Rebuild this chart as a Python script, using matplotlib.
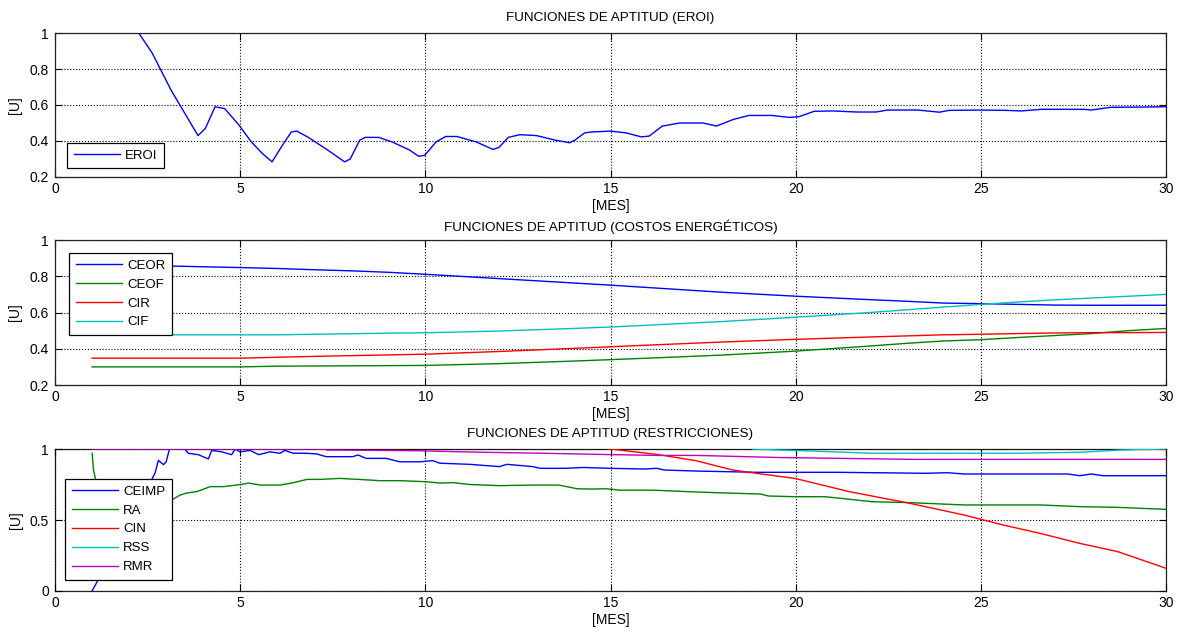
"""
Funciones de aptitud (EROI, costos energeticos, restricciones) por mes.
"""

import matplotlib.pyplot as plt

plt.rcParams['font.family'] = ['Liberation Sans', 'DejaVu Sans']
plt.rcParams['font.size'] = 10

# --- Panel 1: EROI ---
mes_eroi = [2.0, 2.26, 2.62, 3.14, 3.86, 4.06, 4.32, 4.58, 4.96, 5.3, 5.6, 5.86,
            6.12, 6.38, 6.53, 6.84, 7.36, 7.82, 7.97, 8.23, 8.38, 8.74, 9.1,
            9.57, 9.82, 9.98, 10.29, 10.55, 10.85, 11.37, 11.83, 11.99, 12.24,
            12.55, 13.0, 13.5, 13.9, 14.04, 14.3, 14.48, 15.0, 15.42, 15.83,
            16.04, 16.4, 16.87, 17.5, 17.86, 18.32, 18.74, 19.36, 19.83, 20.09,
            20.5, 21.02, 21.65, 22.17, 22.48, 23.3, 23.88, 24.14, 24.97, 25.7,
            26.1, 26.63, 27.77, 27.98, 28.5, 30.0]
eroi = [1.06, 1.0, 0.89, 0.68, 0.43, 0.47, 0.59, 0.58, 0.49, 0.395, 0.33, 0.284,
        0.37, 0.45, 0.455, 0.42, 0.35, 0.284, 0.30, 0.405, 0.42, 0.42, 0.395,
        0.35, 0.315, 0.32, 0.395, 0.425, 0.425, 0.395, 0.353, 0.365, 0.42,
        0.435, 0.43, 0.405, 0.39, 0.405, 0.445, 0.45, 0.455, 0.445, 0.423,
        0.427, 0.483, 0.50, 0.50, 0.483, 0.52, 0.542, 0.542, 0.531, 0.535,
        0.565, 0.567, 0.561, 0.561, 0.572, 0.572, 0.56, 0.57, 0.572, 0.57,
        0.567, 0.576, 0.576, 0.572, 0.587, 0.59]

# --- Panel 2: costos energeticos ---
mes_costos = [1, 3, 5, 6, 7, 8, 9, 10, 12, 14, 15, 16, 18, 20, 22, 23, 24, 25,
              26, 27, 28, 29, 30]
ceor = [0.858, 0.857, 0.848, 0.843, 0.836, 0.83, 0.822, 0.811, 0.787, 0.763,
        0.751, 0.738, 0.712, 0.69, 0.671, 0.662, 0.652, 0.649, 0.645, 0.641,
        0.64, 0.64, 0.64]
ceof = [0.30, 0.30, 0.30, 0.304, 0.305, 0.306, 0.307, 0.308, 0.318, 0.332,
        0.34, 0.348, 0.365, 0.387, 0.415, 0.43, 0.443, 0.45, 0.462, 0.473,
        0.484, 0.50, 0.512]
cir = [0.348, 0.348, 0.348, 0.353, 0.358, 0.362, 0.366, 0.37, 0.385, 0.402,
       0.411, 0.42, 0.437, 0.452, 0.465, 0.471, 0.477, 0.48, 0.484, 0.487,
       0.489, 0.489, 0.49]
cif = [0.477, 0.477, 0.477, 0.477, 0.48, 0.483, 0.486, 0.488, 0.498, 0.512,
       0.52, 0.53, 0.55, 0.574, 0.60, 0.615, 0.63, 0.645, 0.658, 0.67, 0.68,
       0.69, 0.70]

# --- Panel 3: restricciones ---
mes_ceimp = [1, 1.5, 2.0, 2.5, 2.7, 2.79, 2.93, 3.0, 3.09, 3.3, 3.5, 3.6, 3.87,
             4.14, 4.23, 4.5, 4.77, 4.86, 5.0, 5.27, 5.5, 5.8, 6.08, 6.2, 6.44,
             6.8, 7.07, 7.32, 8.04, 8.18, 8.4, 8.95, 9.3, 9.85, 10.2, 10.39,
             11.2, 12.0, 12.2, 12.9, 13.1, 13.8, 14.26, 15.0, 15.93, 16.25,
             16.45, 17.28, 18.95, 21.1, 23.5, 24.1, 24.55, 27.35, 27.67, 27.98,
             28.3, 30]
ceimp = [0, 0.24, 0.49, 0.73, 0.83, 0.92, 0.89, 0.91, 1.0, 1.01, 1.0, 0.97,
         0.96, 0.93, 0.99, 0.98, 0.96, 1.0, 0.98, 0.99, 0.96, 0.98, 0.97, 0.99,
         0.97, 0.97, 0.965, 0.946, 0.946, 0.958, 0.934, 0.934, 0.91, 0.91,
         0.918, 0.90, 0.892, 0.876, 0.892, 0.876, 0.864, 0.864, 0.87, 0.864,
         0.859, 0.864, 0.852, 0.845, 0.836, 0.836, 0.829, 0.833, 0.824, 0.824,
         0.812, 0.824, 0.812, 0.812]
mes_ra = [1, 1.04, 1.3, 2.0, 2.8, 3.07, 3.38, 3.56, 3.83, 4.19, 4.55, 5.0, 5.23,
          5.54, 6.08, 6.44, 6.8, 7.16, 7.68, 8.2, 8.77, 9.3, 10.0, 10.4, 10.75,
          11.2, 12.0, 12.9, 13.6, 14.1, 14.5, 14.9, 15.25, 16.15, 17.05, 17.9,
          19.05, 19.26, 20.0, 20.8, 22.06, 23.1, 24.55, 26.6, 27.67, 28.7, 30]
ra = [0.97, 0.85, 0.55, 0.5, 0.6, 0.63, 0.676, 0.69, 0.70, 0.735, 0.735, 0.75,
      0.76, 0.746, 0.746, 0.763, 0.786, 0.786, 0.793, 0.786, 0.777, 0.777,
      0.77, 0.76, 0.763, 0.75, 0.742, 0.746, 0.746, 0.72, 0.718, 0.72, 0.71,
      0.71, 0.70, 0.692, 0.683, 0.669, 0.664, 0.664, 0.629, 0.622, 0.606,
      0.606, 0.594, 0.589, 0.575]
mes_cin = [1, 10, 13, 14, 15, 16.25, 17.3, 18.3, 19.05, 19.98, 21.44, 23.0,
           23.5, 24.55, 25.0, 25.6, 26.6, 27.66, 28.7, 30]
cin = [1.4, 1.17, 1.08, 1.04, 1.0, 0.962, 0.918, 0.852, 0.825, 0.793, 0.70,
       0.622, 0.594, 0.535, 0.505, 0.465, 0.406, 0.336, 0.277, 0.16]
mes_rss = [1, 18.7, 18.84, 19.57, 20.5, 22.06, 25.9, 27.67, 28.8, 30]
rss = [1.05, 1.02, 1.0, 0.993, 0.985, 0.97, 0.97, 0.977, 0.993, 1.0]
mes_rmr = [1, 7.3, 7.32, 9.76, 11.56, 13.2, 14.7, 16.24, 17.3, 19.56, 23.2, 30]
rmr = [1.0, 1.0, 0.993, 0.988, 0.977, 0.97, 0.962, 0.955, 0.955, 0.94, 0.927,
       0.927]

AZUL = (0, 0, 1)
VERDE = (0, 0.5, 0)
ROJO = (1, 0, 0)
CIAN = (0, 0.75, 0.75)
MAGENTA = (0.75, 0, 0.75)


def estilo_matlab(ax, yticks, ylabels, ylim):
    """Apply the old MATLAB look: inward ticks on all sides, dotted grid."""
    ax.set_xlim(0, 30)
    ax.set_ylim(*ylim)
    ax.set_xticks(range(0, 31, 5))
    ax.set_yticks(yticks)
    ax.set_yticklabels(ylabels)
    ax.tick_params(direction='in', top=True, right=True, length=5,
                   width=0.8, labelsize=10)
    ax.tick_params(axis='x', pad=3.5)
    ax.tick_params(axis='y', pad=4.5)
    ax.grid(True, linestyle=':', color='k', linewidth=0.8)
    for s in ax.spines.values():
        s.set_linewidth(0.9)
        s.set_color('#222222')
    ax.set_xlabel('[MES]', labelpad=2.5, fontsize=10)
    ax.set_ylabel('[U]', labelpad=5, fontsize=10)


def leyenda(ax, x, y):
    leg = ax.legend(loc='upper left', bbox_to_anchor=(x, y), fancybox=False,
                    edgecolor='k', framealpha=1, handlelength=3.5,
                    handletextpad=0.4, labelspacing=0.5, borderpad=0.5,
                    fontsize=9.5, borderaxespad=0)
    leg.get_frame().set_linewidth(0.9)


fig = plt.figure(figsize=(11.84, 6.35), dpi=100)
izq, ancho = 0.0465, 0.9383

# EROI
ax1 = fig.add_axes([izq, 0.7213, ancho, 0.2267])
ax1.plot(mes_eroi, eroi, color=AZUL, lw=1, label='EROI')
estilo_matlab(ax1, [0.2, 0.4, 0.6, 0.8, 1.0], ['0.2', '0.4', '0.6', '0.8', '1'],
              (0.2, 1))
ax1.set_title('FUNCIONES DE APTITUD (EROI)', fontsize=9.7, pad=8.6)
leyenda(ax1, 0.011, 0.236)

# Costos energeticos
ax2 = fig.add_axes([izq, 0.3937, ancho, 0.2283])
ax2.plot(mes_costos, ceor, color=AZUL, lw=1, label='CEOR')
ax2.plot(mes_costos, ceof, color=VERDE, lw=1, label='CEOF')
ax2.plot(mes_costos, cir, color=ROJO, lw=1, label='CIR')
ax2.plot(mes_costos, cif, color=CIAN, lw=1, label='CIF')
estilo_matlab(ax2, [0.2, 0.4, 0.6, 0.8, 1.0], ['0.2', '0.4', '0.6', '0.8', '1'],
              (0.2, 1))
ax2.set_title('FUNCIONES DE APTITUD (COSTOS ENERGÉTICOS)', fontsize=9.7,
              pad=6.4)
leyenda(ax2, 0.0126, 0.91)

# Restricciones
ax3 = fig.add_axes([izq, 0.0693, ancho, 0.2236])
ax3.plot(mes_ceimp, ceimp, color=AZUL, lw=1, label='CEIMP')
ax3.plot(mes_ra, ra, color=VERDE, lw=1, label='RA')
ax3.plot(mes_cin, cin, color=ROJO, lw=1, label='CIN')
ax3.plot(mes_rss, rss, color=CIAN, lw=1, label='RSS')
ax3.plot(mes_rmr, rmr, color=MAGENTA, lw=1, label='RMR')
estilo_matlab(ax3, [0, 0.5, 1.0], ['0', '0.5', '1'], (0, 1))
for s in ax3.spines.values():
    s.set_zorder(1.5)
ax3.set_title('FUNCIONES DE APTITUD (RESTRICCIONES)', fontsize=9.7, pad=8.6)
leyenda(ax3, 0.009, 0.789)

fig.savefig('out.png', dpi=100)
